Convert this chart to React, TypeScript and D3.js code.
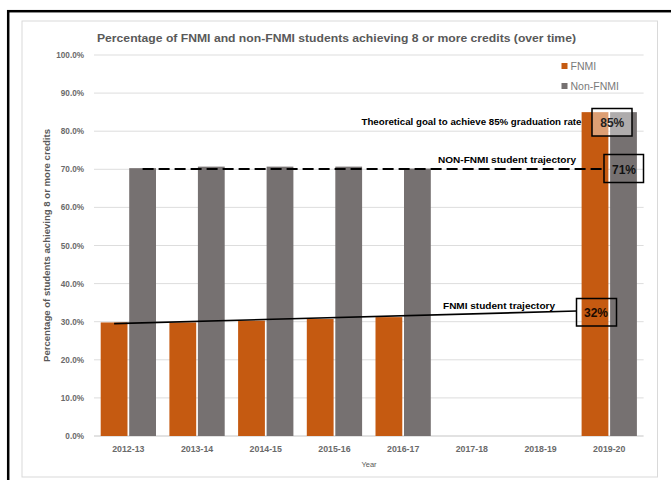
import React from 'react';
import * as d3 from 'd3';

const categories = ['2012-13', '2013-14', '2014-15', '2015-16', '2016-17', '2017-18', '2018-19', '2019-20'];
const fnmi: (number | null)[] = [29.8, 29.8, 30.3, 30.7, 31.2, null, null, 85];
const nonFnmi: (number | null)[] = [70.3, 70.7, 70.7, 70.7, 70.2, null, null, 85];
const seriesNames = ['FNMI', 'Non-FNMI'];
const yTicks = [0, 10, 20, 30, 40, 50, 60, 70, 80, 90, 100];
const fnmiTrajectory = [29.5, 32.8];
const nonFnmiTrajectory = [70.1, 70.1];

const W = 671;
const H = 480;
const ORANGE = '#c55a11';
const GRAY = '#767171';
const TXT = '#595959';
const FONT = 'Liberation Sans, Arial, sans-serif';

export default function App() {
  const x = d3.scaleBand<string>().domain(categories).range([94, 643.6]).paddingInner(0).paddingOuter(0);
  const inner = d3.scaleBand<string>().domain(seriesNames).range([6.7, x.bandwidth() - 6.7]).paddingInner(0.06);
  const y = d3.scaleLinear().domain([0, 100]).range([436, 55]);
  const fmt = (v: number) => v.toFixed(1) + '%';

  const fx0 = (x('2012-13') as number) + (inner('FNMI') as number) + inner.bandwidth() / 2;
  const fx1 = (x('2019-20') as number) + 2;
  const nx0 = (x('2012-13') as number) + (inner('Non-FNMI') as number) + inner.bandwidth() / 2;
  const nx1 = (x('2019-20') as number) + 27;
  const goalX = (x('2019-20') as number) + x.bandwidth() / 2;

  return (
    <svg width={W} height={H} style={{ position: 'absolute', left: 0, top: 0, background: '#fff' }} fontFamily={FONT}>
      <rect x={0} y={0} width={W} height={H} fill="#fff" />
      <rect x={8.2} y={11.2} width={W + 20} height={H + 20} fill="none" stroke="#000" strokeWidth={2.5} />
      <rect x={22} y={21} width={635.5} height={456} fill="#fff" stroke="#d9d9d9" strokeWidth={1} />

      <text x={97} y={42} fontSize={11.5} fontWeight="bold" fill={TXT} textLength={479} lengthAdjust="spacingAndGlyphs">
        Percentage of FNMI and non-FNMI students achieving 8 or more credits (over time)
      </text>

      {yTicks.map(t => (
        <g key={t}>
          <line x1={94} x2={643.6} y1={y(t)} y2={y(t)} stroke="#d9d9d9" strokeWidth={t === 0 ? 1.3 : 0.9} />
          <text x={84} y={y(t) + 3} textAnchor="end" fontSize={8.2} fontWeight="bold" fill="#6a6a6a">{fmt(t)}</text>
        </g>
      ))}

      {categories.map((c, i) => (
        <g key={c}>
          {fnmi[i] != null && (
            <rect x={(x(c) as number) + (inner('FNMI') as number)} y={y(fnmi[i] as number)}
              width={inner.bandwidth()} height={y(0) - y(fnmi[i] as number)} fill={ORANGE} />
          )}
          {nonFnmi[i] != null && (
            <rect x={(x(c) as number) + (inner('Non-FNMI') as number)} y={y(nonFnmi[i] as number)}
              width={inner.bandwidth()} height={y(0) - y(nonFnmi[i] as number)} fill={GRAY} />
          )}
          <text x={(x(c) as number) + x.bandwidth() / 2} y={451.5} textAnchor="middle" fontSize={8.8} fontWeight="bold" fill="#6a6a6a">{c}</text>
        </g>
      ))}

      <text x={369} y={467} textAnchor="middle" fontSize={7.5} fill={TXT}>Year</text>

      <text transform={`translate(50,245.5) rotate(-90)`} textAnchor="middle" fontSize={8.8} fontWeight="bold" fill={TXT}
        textLength={233} lengthAdjust="spacingAndGlyphs">
        Percentage of students achieving 8 or more credits
      </text>

      {/* legend */}
      <rect x={561.5} y={63} width={6} height={6} fill={ORANGE} />
      <text x={570.5} y={69.5} fontSize={10.5} fill="#7a7a7a">{seriesNames[0]}</text>
      <rect x={561.5} y={83} width={6} height={6} fill={GRAY} />
      <text x={570.5} y={89.5} fontSize={10.5} fill="#7a7a7a">{seriesNames[1]}</text>

      {/* trajectories */}
      <line x1={nx0} x2={nx1} y1={y(nonFnmiTrajectory[0])} y2={y(nonFnmiTrajectory[1])} stroke="#000" strokeWidth={2} strokeDasharray="11,5" />
      <line x1={fx0} x2={fx1} y1={y(fnmiTrajectory[0])} y2={y(fnmiTrajectory[1])} stroke="#000" strokeWidth={1.6} />

      <text x={361.5} y={124.5} fontSize={8.6} fontWeight="bold" fill="#000" textLength={220} lengthAdjust="spacingAndGlyphs">
        Theoretical goal to achieve 85% graduation rate
      </text>
      <text x={438} y={163} fontSize={8.6} fontWeight="bold" fill="#000" textLength={138} lengthAdjust="spacingAndGlyphs">
        NON-FNMI student trajectory
      </text>
      <text x={443} y={308.5} fontSize={8.6} fontWeight="bold" fill="#000" textLength={112} lengthAdjust="spacingAndGlyphs">
        FNMI student trajectory
      </text>

      <rect x={592} y={108.5} width={40} height={27.5} fill="#fff" fillOpacity={0.42} stroke="#000" strokeWidth={1.5} />
      <text x={goalX + 3} y={127} textAnchor="middle" fontSize={12} fontWeight="bold" fill="#222">85%</text>

      <rect x={604} y={154.5} width={39.5} height={28} fill="none" stroke="#000" strokeWidth={1.5} />
      <text x={624} y={173.5} textAnchor="middle" fontSize={12} fontWeight="bold" fill="#111">71%</text>

      <rect x={576.5} y={298.5} width={40} height={27.5} fill="none" stroke="#000" strokeWidth={1.5} />
      <text x={596} y={317} textAnchor="middle" fontSize={12} fontWeight="bold" fill="#1a0a00">32%</text>
    </svg>
  );
}
